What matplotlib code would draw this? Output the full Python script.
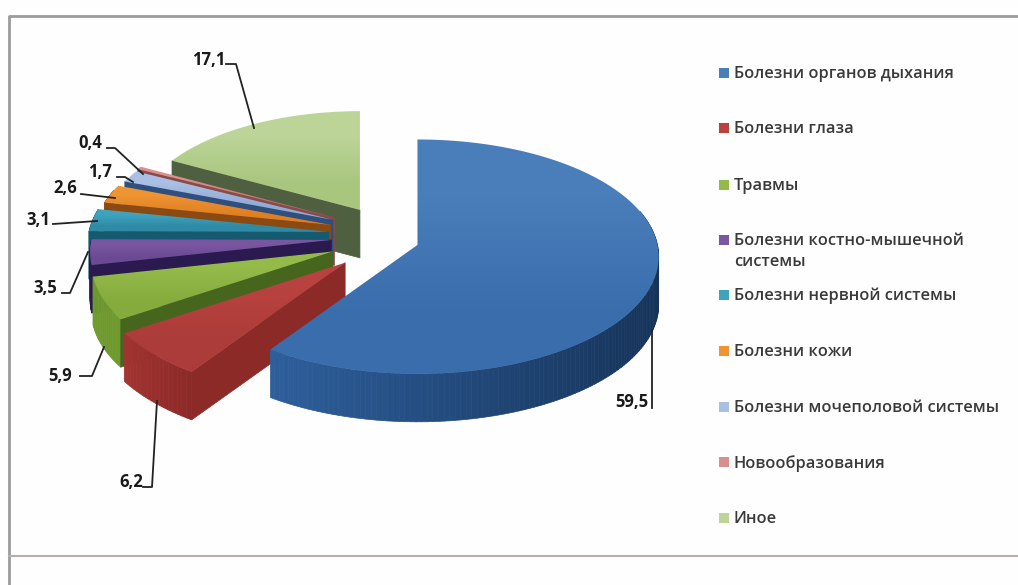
import numpy as np
import matplotlib
matplotlib.use("Agg")
import matplotlib.pyplot as plt
from matplotlib.colors import LinearSegmentedColormap, to_rgb
from matplotlib.patches import Polygon, Rectangle

# Data

categories = [
    "Болезни органов дыхания",
    "Болезни глаза",
    "Травмы",
    "Болезни костно-мышечной\nсистемы",
    "Болезни нервной системы",
    "Болезни кожи",
    "Болезни мочеполовой системы",
    "Новообразования",
    "Иное",
]
values = [59.5, 6.2, 5.9, 3.5, 3.1, 2.6, 1.7, 0.4, 17.1]
value_labels = ["59,5", "6,2", "5,9", "3,5", "3,1", "2,6", "1,7", "0,4", "17,1"]

# Styles: top colours (light, dark), edge wall, rim wall (left, right)
top_colors = [("#4a7ebb", "#3a6dab"), ("#b8423f", "#ab3c39"), ("#94bb4a", "#84ab3c"),
              ("#7a55a0", "#6a4a92"), ("#3fa3be", "#2f8ba5"), ("#ee9433", "#e07f20"),
              ("#a9bfe3", "#8faad6"), ("#d98f8d", "#c47270"), ("#bcd498", "#a8c67e")]
wall_colors = ["#1f4a7a", "#8c2a28", "#47661d", "#2a1a4f", "#155a6e", "#8a4a12",
               "#2f4f7f", "#8a4a48", "#4f6040"]
rim_left = ["#2e5f9c", "#a33431", "#6f9a2f", "#2a1a4f", "#155a6e", "#8a4a12",
            "#2f4f7f", "#8a4a48", "#4f6040"]
rim_right = ["#16345a", "#8c2a28", "#6f9a2f", "#2a1a4f", "#155a6e", "#8a4a12",
             "#2f4f7f", "#8a4a48", "#4f6040"]
explode = [0.16, 0.20, 0.21, 0.20, 0.21, 0.21, 0.21, 0.21, 0.16]
slice_scale = [1.0, 1.04, 1.0, 1.0, 1.0, 0.98, 0.96, 0.96, 0.93]

# Projection settings (pixels)
CX, CY = 380, 236
RX, RY = 240, 116
PERSP = 0.10
DEPTH = 48
EXPLODE_X, EXPLODE_Y = 245, 190

# Labels: text centre and leader points
label_pos = [(632, 402), (131, 482), (60, 376), (45, 288), (38, 220),
             (65, 188), (100, 172), (90, 143), (209, 60)]
leaders = [
    [(652, 408), (652, 330)],
    [(143, 487), (152, 487), (157, 401)],
    [(80, 376), (92, 376), (104, 347)],
    [(62, 293), (70, 293), (88, 252)],
    [(53, 224), (97, 221)],
    [(81, 194), (115, 198)],
    [(117, 177), (125, 177), (133, 182)],
    [(107, 148), (115, 148), (143, 174)],
    [(226, 64), (236, 64), (254, 128)],
]
legend_y = [73, 128, 185, 240, 295, 351, 407, 462, 518]

FONT = ["Open Sans", "DejaVu Sans"]


def project(u, v, ox, oy, drop=0.0):
    # u right, v towards the viewer, both in radius units
    s = 1.0 / (1.0 - PERSP * v)
    return ox + RX * u * s, oy + RY * v * s + drop


def mix(c1, c2, t):
    a, b = np.array(to_rgb(c1)), np.array(to_rgb(c2))
    return tuple(a + (b - a) * t)


fig = plt.figure(figsize=(10.18, 5.85), dpi=100, facecolor="#fefefe")
ax = fig.add_axes([0, 0, 1, 1])
ax.axis("off")

# Frame
ax.plot([9, 9, 1018], [585, 16, 16], color="#9c9c9c", lw=2, zorder=1)
ax.plot([9, 1018], [556, 556], color="#b5b0ac", lw=1.5, zorder=1)

total = sum(values)
edges = np.cumsum([0] + values) / total * 2 * np.pi
z = 2

for i in range(len(values) - 1, -1, -1):
    th = np.linspace(edges[i], edges[i + 1], max(8, int(values[i] * 3)))
    mid = (edges[i] + edges[i + 1]) / 2
    ox = CX + EXPLODE_X * explode[i] * np.sin(mid)
    oy = CY - EXPLODE_Y * explode[i] * np.cos(mid)

    u = np.sin(th) * slice_scale[i]
    v = -np.cos(th) * slice_scale[i]
    rx, ry = project(u, v, ox, oy)
    bx, by = project(u, v, ox, oy, DEPTH)

    # Outer rim in small pieces so the shade can change along it, back part stays hidden
    order = np.argsort(v[:-1])
    for k in order:
        if v[k] < -0.3:
            continue
        t = (rx[k] - rx.min()) / max(rx.max() - rx.min(), 1)
        col = mix(rim_left[i], rim_right[i], t)
        ax.add_patch(Polygon([(rx[k], ry[k]), (rx[k + 1], ry[k + 1]), (bx[k + 1], by[k + 1]), (bx[k], by[k])],
                             closed=True, fc=col, ec=col, lw=0.5, zorder=z))
    z += 1

    # Straight walls, only the one that faces the viewer
    for k, facing in ((0, -np.sin(th[0])), (-1, np.sin(th[-1]))):
        if facing > 0:
            pts = [(ox, oy), (rx[k], ry[k]), (bx[k], by[k]), (ox, oy + DEPTH)]
            ax.add_patch(Polygon(pts, closed=True, fc=wall_colors[i], ec=wall_colors[i], lw=0.5, zorder=z))
    z += 1

    # Top surface with a soft gradient
    outline = [(ox, oy)] + list(zip(rx, ry))
    xs = [p[0] for p in outline]
    ys = [p[1] for p in outline]
    cmap = LinearSegmentedColormap.from_list("top%d" % i, top_colors[i])
    img = ax.imshow([[0.0], [1.0]], extent=(min(xs), max(xs), max(ys), min(ys)), cmap=cmap,
                    aspect="auto", interpolation="bilinear", zorder=z)
    clip = Polygon(outline, closed=True, transform=ax.transData, fc="none", ec="none")
    ax.add_patch(clip)
    img.set_clip_path(clip)
    z += 1

# Value labels and leaders
for txt, pos, line in zip(value_labels, label_pos, leaders):
    ax.plot([p[0] for p in line], [p[1] for p in line], color="#222222", lw=1.3, zorder=z)
    ax.text(pos[0], pos[1], txt, ha="center", va="center", fontsize=12, fontweight="bold",
            family=FONT, color="#1a1a1a", zorder=z + 1)

# Legend
for i, (name, y) in enumerate(zip(categories, legend_y)):
    ax.add_patch(Rectangle((719, y - 5), 10, 10, fc=top_colors[i][0], ec="none", zorder=z))
    ax.text(734, y - 7, name, ha="left", va="top", fontsize=11.8, fontweight="semibold",
            family=FONT, color="#3a3a3a", linespacing=1.45, zorder=z)

ax.set_xlim(0, 1018)
ax.set_ylim(585, 0)
fig.savefig("out.png", dpi=100, facecolor=fig.get_facecolor())
